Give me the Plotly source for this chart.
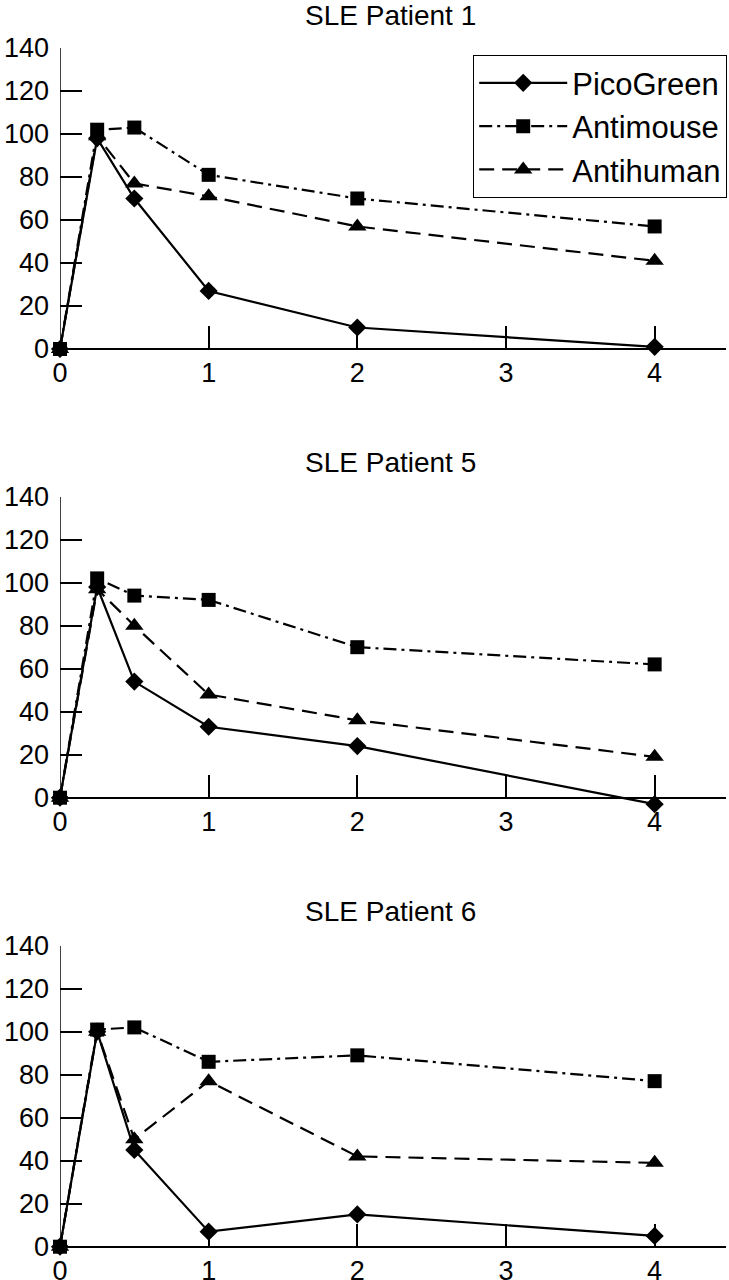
import plotly.graph_objects as go

# ---- data ----
hours = [0, 0.25, 0.5, 1, 2, 4]
x_tick_vals = [0, 1, 2, 3, 4]
y_tick_vals = [0, 20, 40, 60, 80, 100, 120, 140]
panel_titles = ["SLE Patient 1", "SLE Patient 5", "SLE Patient 6"]
series_names = ["PicoGreen", "Antimouse", "Antihuman"]

picogreen_p1 = [0, 98, 70, 27, 10, 1]
antimouse_p1 = [0, 102, 103, 81, 70, 57]
antihuman_p1 = [0, 99, 77, 71, 57, 41]

picogreen_p5 = [0, 98, 54, 33, 24, -3]
antimouse_p5 = [0, 102, 94, 92, 70, 62]
antihuman_p5 = [0, 97, 80, 48, 36, 19]

picogreen_p6 = [0, 100, 45, 7, 15, 5]
antimouse_p6 = [0, 101, 102, 86, 89, 77]
antihuman_p6 = [0, 100, 50, 77, 42, 39]

panels = [
    [picogreen_p1, antimouse_p1, antihuman_p1],
    [picogreen_p5, antimouse_p5, antihuman_p5],
    [picogreen_p6, antimouse_p6, antihuman_p6],
]

# ---- styles ----
W, H = 729, 1280
FONT = "Liberation Sans"
styles = [
    dict(symbol="diamond", size=14, dash="solid"),
    dict(symbol="square", size=14, dash="13px,5px,3px,5px"),
    dict(symbol="triangle-up", size=16, dash="15px,8px"),
]
Y_MIN, Y_MAX = -5, 140
X_MAX = 4.48
top_px = [48, 496.7, 945.7]     # pixel of y=140
zero_px = [349, 797.7, 1246.7]  # pixel of y=0
title_px = [16, 462.5, 911]

fig = go.Figure()
layout = dict(
    width=W, height=H,
    margin=dict(l=0, r=0, t=0, b=0),
    paper_bgcolor="white", plot_bgcolor="white",
    font=dict(family=FONT, size=27, color="black"),
    showlegend=True,
    legend=dict(
        x=727 / W, xanchor="right", y=1 - 55 / H, yanchor="top",
        bordercolor="black", borderwidth=1.2, bgcolor="white",
        font=dict(family=FONT, size=31, color="black"),
        traceorder="grouped", tracegroupgap=0, itemwidth=88,
    ),
)
shapes = []
annotations = []
xdom = [60 / W, 726 / W]

for p, series in enumerate(panels):
    sfx = "" if p == 0 else str(p + 1)
    ppu = (zero_px[p] - top_px[p]) / Y_MAX
    bottom_px = zero_px[p] + (0 - Y_MIN) * ppu
    ydom = [1 - bottom_px / H, 1 - top_px[p] / H]
    xpos = ydom[0] + (0 - Y_MIN) / (Y_MAX - Y_MIN) * (ydom[1] - ydom[0])

    for s, vals in enumerate(series):
        st = styles[s]
        fig.add_trace(go.Scatter(
            x=hours, y=vals, name=series_names[s],
            mode="lines+markers",
            line=dict(color="black", width=2.2, dash=st["dash"]),
            marker=dict(symbol=st["symbol"], size=st["size"], color="black"),
            cliponaxis=False,
            showlegend=(p == 0), legendgroup=series_names[s],
            xaxis="x" + sfx, yaxis="y" + sfx,
        ))

    layout["xaxis" + sfx] = dict(
        domain=xdom, range=[0, X_MAX], anchor="free", position=xpos,
        tickvals=x_tick_vals, ticks="inside", ticklen=22, tickwidth=1.5,
        tickcolor="black", showline=True, linecolor="black", linewidth=1.5,
        showgrid=False, zeroline=False, ticklabelstandoff=0,
        tickfont=dict(family=FONT, size=27, color="black"), automargin=False,
    )
    layout["yaxis" + sfx] = dict(
        domain=ydom, range=[Y_MIN, Y_MAX], anchor="x" + sfx,
        tickvals=y_tick_vals, ticks="inside", ticklen=22, tickwidth=1.5,
        tickcolor="black", showline=False, showgrid=False, zeroline=False,
        ticklabelstandoff=10,
        tickfont=dict(family=FONT, size=27, color="black"), automargin=False,
    )
    shapes.append(dict(
        type="line", xref="x" + sfx, yref="y" + sfx,
        x0=0, x1=0, y0=0, y1=Y_MAX,
        line=dict(color="black", width=1.5), layer="below",
    ))
    annotations.append(dict(
        text=panel_titles[p], xref="paper", yref="paper",
        x=390 / W, y=1 - title_px[p] / H, xanchor="center", yanchor="middle",
        showarrow=False, font=dict(family=FONT, size=28, color="black"),
    ))

layout["shapes"] = shapes
layout["annotations"] = annotations
fig.update_layout(**layout)
fig.write_html(
    "out.html",
    config={"displayModeBar": False},
    post_script="document.body.style.margin='0px';document.body.style.padding='0px';",
)
